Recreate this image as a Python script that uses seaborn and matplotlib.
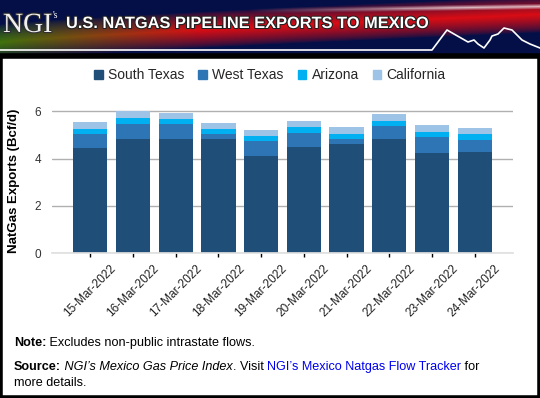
import numpy as np
import pandas as pd
import matplotlib
matplotlib.use("Agg")
import matplotlib.pyplot as plt
import matplotlib.patheffects as pe
import seaborn as sns
from matplotlib.patches import Rectangle

dates = ["15-Mar-2022", "16-Mar-2022", "17-Mar-2022", "18-Mar-2022", "19-Mar-2022",
         "20-Mar-2022", "21-Mar-2022", "22-Mar-2022", "23-Mar-2022", "24-Mar-2022"]
south_texas = [4.46, 4.84, 4.84, 4.84, 4.11, 4.50, 4.62, 4.84, 4.24, 4.28]
west_texas = [0.59, 0.64, 0.64, 0.21, 0.64, 0.59, 0.22, 0.55, 0.68, 0.51]
arizona = [0.21, 0.25, 0.21, 0.21, 0.21, 0.26, 0.21, 0.21, 0.21, 0.26]
california = [0.30, 0.29, 0.26, 0.26, 0.26, 0.25, 0.30, 0.30, 0.30, 0.26]
series_names = ["South Texas", "West Texas", "Arizona", "California"]
colors = ["#1F4E79", "#2E75B6", "#00B0F0", "#9DC3E6"]
yticks = [0, 2, 4, 6]

W, H = 540, 398
sns.set_theme(style="white")
plt.rcParams['font.family'] = ['Liberation Sans', 'DejaVu Sans']

fig = plt.figure(figsize=(W / 100, H / 100), dpi=100)
fig.patch.set_facecolor("white")

# ---- header banner ----
hh = 56
hax = fig.add_axes([0, 1 - hh / H, 1, hh / H])
yy, xx = np.mgrid[0:hh, 0:W]
img = np.zeros((hh, W, 3))
img[:] = np.array([0.02, 0.06, 0.28])
center = 42 - 28 * (xx / W) ** 0.8
dist = np.abs(yy - center)
band = np.clip(1 - dist / 18, 0, 1) ** 0.7
t = np.clip(xx / 200, 0, 1)
red = np.array([0.85, 0.05, 0.08])
green = np.array([0.25, 0.45, 0.05])
bandcol = (1 - t)[..., None] * green + t[..., None] * red
img = img * (1 - band[..., None]) + bandcol * band[..., None]
streak = np.clip(1 - np.abs(yy - (14 - 8 * xx / W)) / 3, 0, 1) * np.clip((xx - 250) / 200, 0, 1)
img = img * (1 - 0.7 * streak[..., None]) + 0.7 * streak[..., None]
hax.imshow(img, extent=[0, W, hh, 0], aspect="auto")
hax.set_xlim(0, W)
hax.set_ylim(hh, 0)
hax.axis("off")
hax.plot([0, 432, 447, 468, 474, 478, 484, 490, 492, 498, 504, 512, 522, 530, 540],
         [50, 50, 30, 42, 40, 44, 48, 40, 36, 34, 28, 30, 40, 44, 48],
         color="white", lw=1.2)
hax.text(3, 32, "NGI", family="Liberation Serif", fontsize=20, color="#F0F0F0", va="baseline",
         path_effects=[pe.withStroke(linewidth=1.5, foreground="#303030")])
hax.text(53, 18, "'s", family="Liberation Serif", fontsize=7, color="white", va="baseline")
hax.text(66, 28, "U.S. NATGAS PIPELINE EXPORTS TO MEXICO", fontsize=11.8,
         fontweight="bold", color="white", va="baseline",
         path_effects=[pe.withStroke(linewidth=1.5, foreground="#202020")])

# ---- main axes ----
ax = fig.add_axes([52 / W, 1 - 253 / H, (513 - 52) / W, (253 - 109) / H])
df = pd.DataFrame({"date": dates, "st": south_texas, "wt": west_texas,
                   "az": arizona, "ca": california})
cum = [df["st"], df["st"] + df["wt"], df["st"] + df["wt"] + df["az"],
       df["st"] + df["wt"] + df["az"] + df["ca"]]
for i in range(3, -1, -1):
    sns.barplot(x=df["date"], y=cum[i], color=colors[i], ax=ax, width=0.8,
                saturation=1, linewidth=0, order=dates)
ax.set_xlim(-0.9, 9.9)
ax.set_ylim(0, 6.1)
ax.set_yticks(yticks)
ax.set_yticklabels([str(v) for v in yticks], fontsize=8.5, color="#333333")
ax.yaxis.grid(True, color="#B0B0B0", lw=1)
ax.set_axisbelow(True)
for s in ["top", "right", "left"]:
    ax.spines[s].set_visible(False)
ax.spines["bottom"].set_color("#E0E0E0")
ax.tick_params(axis="y", length=0, pad=8)
ax.tick_params(axis="x", length=3, width=1, color="black", direction="out", bottom=True, pad=4)
ax.set_xticks(range(len(dates)))
ax.set_xticklabels(dates, rotation=45, ha="center", fontsize=8.6, color="#222222")
ax.set_xlabel("")
ax.set_ylabel("NatGas Exports (Bcf/d)", fontsize=9.5, fontweight="bold", color="black", labelpad=10)

handles = [Rectangle((0, 0), 1, 1, color=c) for c in colors]
fig.legend(handles, series_names, loc="center", bbox_to_anchor=(270 / W, 1 - 75 / H),
           ncol=4, frameon=False, fontsize=10, handlelength=0.6, handleheight=0.6,
           handletextpad=0.4, columnspacing=1.0)

# ---- footnotes ----
fig.canvas.draw()
renderer = fig.canvas.get_renderer()


def rich_line(x_px, y_px, pieces, size=9.1):
    x = x_px
    for txt, kw in pieces:
        tt = fig.text(x / W, 1 - y_px / H, txt, fontsize=size, va="center", ha="left",
                      color=kw.pop("color", "black"), **kw)
        bb = tt.get_window_extent(renderer=renderer)
        x += bb.width
    return x


rich_line(14, 343, [("Note:", {"fontweight": "bold"}),
                    (" Excludes non-public intrastate flows.", {})])
rich_line(14, 367, [("Source:", {"fontweight": "bold"}),
                    (" NGI\u2019s Mexico Gas Price Index", {"fontstyle": "italic"}),
                    (". Visit ", {}),
                    ("NGI\u2019s Mexico Natgas Flow Tracker", {"color": "#0000EE"}),
                    (" for", {})])
rich_line(14, 383, [("more details.", {})])

# ---- border ----
fig.add_artist(Rectangle((0, 0), 1, 1 - hh / H, transform=fig.transFigure, fill=False,
                         edgecolor="black", lw=4))

fig.savefig("out.png", dpi=100)
